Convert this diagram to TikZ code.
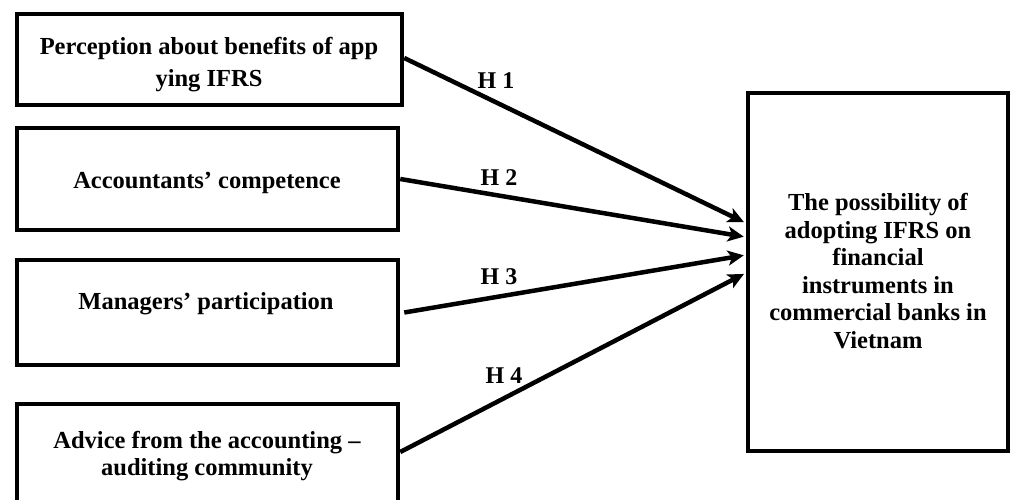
\documentclass[tikz,border=0pt]{standalone}
\usepackage{fontspec}
\setmainfont{Liberation Serif}
\usetikzlibrary{arrows.meta}
\begin{document}
\begin{tikzpicture}[x=1pt,y=-1pt,
  box/.style={draw=black,line width=4.5pt,rectangle,inner sep=0pt},
  txt/.style={align=center,inner sep=0pt,font=\bfseries\fontsize{24.5}{32}\selectfont},
  rtxt/.style={align=center,inner sep=0pt,font=\bfseries\fontsize{24.5}{27.6}\selectfont},
  hlab/.style={inner sep=0pt,font=\bfseries\fontsize{24}{28}\selectfont},
  arr/.style={line width=4.5pt,-{Stealth[length=16pt,width=15pt,inset=4pt]},shorten >=2pt}]
\useasboundingbox (0,0) rectangle (1013,499);
\node[box,minimum width=385pt,minimum height=91pt] (b1) at (209.5,59.5) {};
\node[box,minimum width=381pt,minimum height=102pt] (b2) at (207.5,179) {};
\node[box,minimum width=381pt,minimum height=105pt] (b3) at (207.5,312.5) {};
\node[box,minimum width=381pt,minimum height=100pt] (b4) at (207.5,454) {};
\node[box,minimum width=260pt,minimum height=358pt] (r) at (878,272) {};
\node[txt] (t1) at (209,65) {Perception about benefits of app\\ying IFRS};
\node[txt] (t2) at (207,183) {Accountants’ competence};
\node[txt] (t3) at (206,304) {Managers’ participation};
\node[txt,font=\bfseries\fontsize{24.5}{27}\selectfont] (t4) at (207,456) {Advice from the accounting –\\auditing community};
\node[rtxt] (tr) at (878,271) {The possibility of\\adopting IFRS on\\financial\\instruments in\\commercial banks in\\Vietnam};
\draw[arr] ([yshift=1.5pt]b1.east) -- ([yshift=49pt]r.west);
\draw[arr] (b2.east) -- ([yshift=35pt]r.west);
\draw[arr] ([xshift=4pt]b3.east) -- ([yshift=17pt]r.west);
\draw[arr] ([yshift=2pt]b4.east) -- ([yshift=-1pt]r.west);
\node[hlab] (h1) at (496,81) {H 1};
\node[hlab] (h2) at (499,178) {H 2};
\node[hlab] (h3) at (499,277) {H 3};
\node[hlab] (h4) at (504,376) {H 4};
\end{tikzpicture}
\end{document}
